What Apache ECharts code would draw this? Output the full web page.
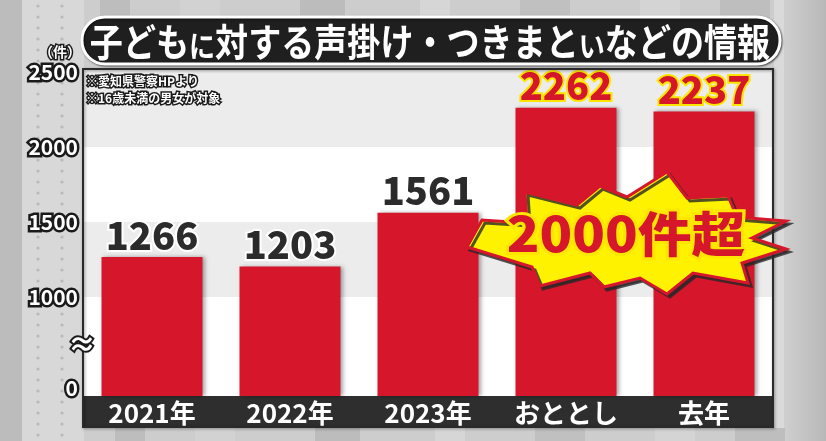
<!DOCTYPE html>
<html>
<head>
<meta charset="utf-8">
<script src="https://cdn.jsdelivr.net/npm/echarts@6/dist/echarts.min.js"></script>
<style>
html,body{margin:0;padding:0;background:#c8c8c8;}
#chart{width:826px;height:441px;}
</style>
</head>
<body>
<div id="chart"></div>
<script>
// ---- data ----
const titleText = '子どもに対する声掛け・つきまといなどの情報';
const categories = ['2021年', '2022年', '2023年', 'おととし', '去年'];
const values = [1266, 1203, 1561, 2262, 2237];
const highlightFrom = 3; // "おととし" and "去年" highlighted
const yTickValues = [393, 1000, 1500, 2000, 2500]; // 393 is displayed as 0 (broken axis)
const notes = ['※愛知県警察HPより', '※16歳未満の男女が対象'];
const unitLabel = '（件）';
const calloutText = '2000件超';

const FONT = '"Noto Sans CJK JP", "Noto Sans", sans-serif';
const RED = '#d6162b';

const chart = echarts.init(document.getElementById('chart'));

const barData = values.map((v, i) => {
  const hi = i >= highlightFrom;
  return {
    value: v,
    label: hi ? {
      color: RED, textBorderColor: '#ffe600', textBorderWidth: 4,
      textShadowColor: 'rgba(40,40,40,0.9)', textShadowOffsetX: 2, textShadowOffsetY: 2, textShadowBlur: 0
    } : {
      color: '#2b2b2b', textBorderColor: '#ffffff', textBorderWidth: 4,
      textShadowColor: 'rgba(60,60,60,0.9)', textShadowOffsetX: 2, textShadowOffsetY: 2, textShadowBlur: 0
    }
  };
});

// decorative background
const bg = [];
bg.push({type:'rect', shape:{x:0,y:0,width:826,height:441}, style:{fill:'#cdcdcd'}, z:-10, silent:true});
bg.push({type:'rect', shape:{x:0,y:0,width:22,height:441}, style:{fill:'#bcbcbc'}, z:-9, silent:true});
bg.push({type:'rect', shape:{x:22,y:0,width:62,height:441}, style:{fill:'#d8d8d8'}, z:-9, silent:true});
bg.push({type:'rect', shape:{x:774,y:0,width:10,height:441}, style:{fill:'#dadada'}, z:-9, silent:true});
bg.push({type:'rect', shape:{x:784,y:0,width:42,height:441}, style:{fill:new echarts.graphic.LinearGradient(0,0,1,0,[{offset:0,color:'#cfcfcf'},{offset:1,color:'#b8b8b8'}])}, z:-9, silent:true});
const topBlocks = [[100,30,'#bdbdbd'],[180,40,'#d2d2d2'],[300,45,'#bcbcbc'],[420,30,'#d6d6d6'],[520,50,'#c0c0c0'],[640,40,'#d4d4d4'],[720,50,'#bebebe']];
topBlocks.forEach(b => {
  bg.push({type:'rect', shape:{x:b[0],y:0,width:b[1],height:18}, style:{fill:b[2]}, z:-8, silent:true});
  bg.push({type:'rect', shape:{x:b[0]+15,y:428,width:b[1],height:13}, style:{fill:b[2]}, z:-8, silent:true});
});
for (let y = 6; y < 441; y += 11) {
  [38, 62].forEach(x => bg.push({type:'circle', shape:{cx:x, cy:y, r:1.6}, style:{fill:'#b9b9b9'}, z:-7, silent:true}));
}

const burstPts = [
  [467,247],[482,220],[527,223],[525,192],[577,205],[600,186],[627,197],[667,172],
  [687,198],[728,196],[737,217],[786,221],[752,238],[786,249],[742,263],[748,283],
  [693,273],[667,294],[640,278],[604,287],[590,273],[540,286],[532,267]
];

const titleRich = titleText.replace(/[にい]/g, c => '{s|' + c + '}');

// outlined text: dark stroked copy underneath, white fill on top
function outlinedText(txt, x, y, font, align, lw) {
  return [
    { type: 'text', x: x, y: y, z: 31, silent: true,
      style: { text: txt, fill: '#1a1a1a', font: font, align: align, verticalAlign: 'middle', stroke: '#1a1a1a', lineWidth: lw,
        shadowColor: 'rgba(0,0,0,0.7)', shadowOffsetX: 1, shadowOffsetY: 1 } },
    { type: 'text', x: x, y: y, z: 32, silent: true,
      style: { text: txt, fill: '#ffffff', font: font, align: align, verticalAlign: 'middle' } }
  ];
}

const yLabelBase = {
  customValues: yTickValues,
  formatter: v => (v < 1000 ? '0' : String(v)),
  fontSize: 21, fontWeight: 'bold', fontFamily: FONT, margin: 5
};

const option = {
  animation: false,
  textStyle: { fontFamily: FONT },
  grid: { left: 83, right: 53, top: 69, bottom: 45, show: true, backgroundColor: '#ffffff', borderWidth: 0 },
  xAxis: {
    type: 'category',
    data: categories,
    z: 25,
    axisLine: { show: false },
    axisTick: { show: false },
    axisLabel: { color: '#ffffff', fontSize: 26, fontWeight: 'bold', margin: 3, lineHeight: 28, fontFamily: FONT }
  },
  yAxis: [
    {
      type: 'value', min: 340, max: 2520, z: 27,
      splitLine: { show: false }, axisLine: { show: false }, axisTick: { show: false },
      axisLabel: Object.assign({ color: '#ffffff' }, yLabelBase)
    },
    {
      // outline layer for the tick labels (same scale)
      type: 'value', min: 340, max: 2520, z: 26, position: 'left', offset: 0,
      splitLine: { show: false }, axisLine: { show: false }, axisTick: { show: false },
      axisLabel: Object.assign({ color: '#1a1a1a', textBorderColor: '#1a1a1a', textBorderWidth: 5,
        textShadowColor: 'rgba(0,0,0,0.7)', textShadowOffsetX: 1, textShadowOffsetY: 2, textShadowBlur: 0 }, yLabelBase)
    }
  ],
  series: [
    {
      type: 'line',
      data: values,
      symbol: 'none',
      lineStyle: { opacity: 0 },
      silent: true,
      z: 1,
      markArea: {
        silent: true,
        itemStyle: { color: '#ececec' },
        data: [
          [{ yAxis: 2000 }, { yAxis: 2520 }],
          [{ yAxis: 1000 }, { yAxis: 1500 }]
        ]
      }
    },
    {
      type: 'bar',
      data: barData,
      barWidth: 101,
      z: 3,
      itemStyle: { color: RED, shadowColor: 'rgba(0,0,0,0.35)', shadowBlur: 4, shadowOffsetX: 2 },
      label: {
        show: true,
        position: 'top',
        distance: 3,
        fontSize: 38,
        fontWeight: 900,
        fontFamily: FONT
      }
    }
  ],
  graphic: bg.concat([
    // x-axis dark band
    { type: 'rect', shape: { x: 83, y: 396, width: 690, height: 31 }, style: { fill: '#2e2e2e' }, z: 2, silent: true },
    // plot frame
    { type: 'rect', shape: { x: 83, y: 69, width: 690, height: 358 }, style: { fill: 'none', stroke: '#2a2a2a', lineWidth: 2, shadowColor: 'rgba(0,0,0,0.4)', shadowBlur: 3, shadowOffsetX: 1, shadowOffsetY: 1 }, z: 20, silent: true },
    // title pill
    { type: 'rect', shape: { x: 82, y: 17, width: 698, height: 47, r: 23 }, style: { fill: '#1f1f1f', stroke: '#ffffff', lineWidth: 3, shadowColor: 'rgba(0,0,0,0.6)', shadowBlur: 2, shadowOffsetX: 1, shadowOffsetY: 1 }, z: 30, silent: true },
    { type: 'text', x: 430, y: 42, z: 31, silent: true, scaleX: 0.87,
      style: { text: titleRich, fill: '#ffffff', font: 'bold 38px ' + FONT, align: 'center', verticalAlign: 'middle',
        rich: { s: { fontSize: 30, fontWeight: 'bold', fill: '#ffffff', fontFamily: FONT, verticalAlign: 'bottom' } } } },
    // starburst callout
    { type: 'polygon', shape: { points: burstPts }, z: 40, silent: true,
      style: { fill: '#fff200', stroke: RED, lineWidth: 3, shadowColor: 'rgba(40,40,40,0.8)', shadowBlur: 0, shadowOffsetX: 3, shadowOffsetY: 3 } },
    { type: 'text', x: 626, y: 234, z: 41, silent: true, scaleX: 1.12,
      style: { text: calloutText, fill: '#ffe600', font: '900 48px ' + FONT, align: 'center', verticalAlign: 'middle',
        stroke: '#ffe600', lineWidth: 6, shadowColor: 'rgba(40,40,40,0.8)', shadowOffsetX: 2, shadowOffsetY: 2 } },
    { type: 'text', x: 626, y: 234, z: 42, silent: true, scaleX: 1.12,
      style: { text: calloutText, fill: RED, font: '900 48px ' + FONT, align: 'center', verticalAlign: 'middle' } }
  ])
  .concat(outlinedText(unitLabel, 60, 52, 'bold 14px ' + FONT, 'center', 3))
  .concat(outlinedText('≈', 82, 344, 'bold 28px ' + FONT, 'center', 4))
  .concat(outlinedText(notes[0], 86, 81, 'bold 12px ' + FONT, 'left', 3))
  .concat(outlinedText(notes[1], 86, 98, 'bold 12px ' + FONT, 'left', 3))
};

chart.setOption(option);
</script>
</body>
</html>
